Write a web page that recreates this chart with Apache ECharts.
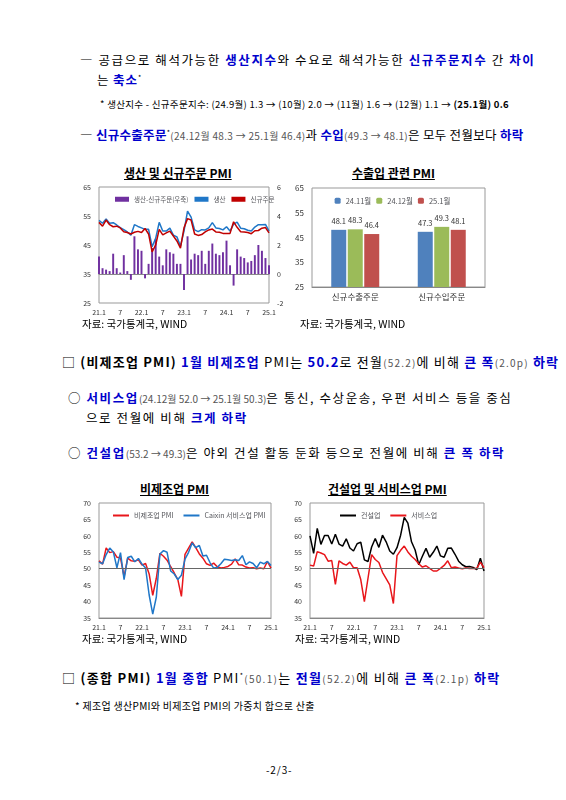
<!DOCTYPE html>
<html><head><meta charset="utf-8">
<script src="https://cdn.jsdelivr.net/npm/echarts@6/dist/echarts.min.js"></script>
<style>
body{margin:0;width:566px;height:800px;background:#fff;font-family:"Noto Sans CJK KR","Noto Sans",sans-serif;color:#000;position:relative;overflow:hidden}
.t{position:absolute;white-space:nowrap;font-size:12.5px;letter-spacing:0.9px}
.s{font-size:9.5px;letter-spacing:0.3px}
.b{color:#0000cc;font-weight:bold}
.g{color:#555;font-size:10px}
.ct{position:absolute;font-size:12px;font-weight:bold;text-decoration:underline;white-space:nowrap}
.src{position:absolute;font-size:10.5px;white-space:nowrap}
.c{position:absolute}
</style></head><body>
<div class="t" style="left:80px;top:50px;letter-spacing:1.6px">― 공급으로 해석가능한 <span class="b">생산지수</span>와 수요로 해석가능한 <span class="b">신규주문지수</span> 간 <span class="b">차이</span></div>
<div class="t" style="left:97px;top:70px">는 <span class="b">축소</span><sup style="font-size:7px">*</sup></div>
<div class="t s" style="left:100px;top:97px">* 생산지수 - 신규주문지수: (24.9월) 1.3 → (10월) 2.0 → (11월) 1.6 → (12월) 1.1 → <b>(25.1월) 0.6</b></div>
<div class="t" style="left:80px;top:125px;letter-spacing:0.3px">― <span class="b">신규수출주문</span><sup style="font-size:7px">*</sup><span class="g">(24.12월 48.3 → 25.1월 46.4)</span>과 <span class="b">수입</span><span class="g">(49.3 → 48.1)</span>은 모두 전월보다 <span class="b">하락</span></div>
<div class="ct" style="left:124px;top:164px">생산 및 신규주문 PMI</div>
<div class="ct" style="left:352px;top:164px">수출입 관련 PMI</div>
<div id="c1" class="c" style="left:60px;top:175px;width:232px;height:145px"></div>
<div id="c2" class="c" style="left:290px;top:175px;width:205px;height:140px"></div>
<div class="src" style="left:82px;top:316px">자료: 국가통계국, WIND</div>
<div class="src" style="left:300px;top:316px">자료: 국가통계국, WIND</div>
<div class="t" style="left:62px;top:352px;font-size:13px;letter-spacing:1.2px">□ <b>(비제조업 PMI)</b> <span class="b">1월 비제조업</span> PMI는 <span class="b">50.2</span>로 전월<span class="g">(52.2)</span>에 비해 <span class="b">큰 폭</span><span class="g">(2.0p)</span> <span class="b">하락</span></div>
<div class="t" style="left:68px;top:388px;letter-spacing:1.6px">○ <span class="b">서비스업</span><span class="g" style="letter-spacing:0">(24.12월 52.0 → 25.1월 50.3)</span>은 통신, 수상운송, 우편 서비스 등을 중심</div>
<div class="t" style="left:86px;top:408px;letter-spacing:1.6px">으로 전월에 비해 <span class="b">크게 하락</span></div>
<div class="t" style="left:68px;top:443px;letter-spacing:1.6px">○ <span class="b">건설업</span><span class="g" style="letter-spacing:0">(53.2 → 49.3)</span>은 야외 건설 활동 둔화 등으로 전월에 비해 <span class="b">큰 폭 하락</span></div>
<div class="ct" style="left:140px;top:480px">비제조업 PMI</div>
<div class="ct" style="left:328px;top:480px">건설업 및 서비스업 PMI</div>
<div id="c3" class="c" style="left:60px;top:490px;width:225px;height:150px"></div>
<div id="c4" class="c" style="left:285px;top:490px;width:210px;height:150px"></div>
<div class="src" style="left:82px;top:631px">자료: 국가통계국, WIND</div>
<div class="src" style="left:295px;top:631px">자료: 국가통계국, WIND</div>
<div class="t" style="left:62px;top:668px;font-size:13px;letter-spacing:1.3px">□ <b>(종합 PMI)</b> <span class="b">1월 종합</span> PMI<sup style="font-size:7px">*</sup><span class="g">(50.1)</span>는 <span class="b">전월</span><span class="g">(52.2)</span>에 비해 <span class="b">큰 폭</span><span class="g">(2.1p)</span> <span class="b">하락</span></div>
<div class="t s" style="left:75px;top:698px;font-size:10px">* 제조업 생산PMI와 비제조업 PMI의 가중치 합으로 산출</div>
<div class="t" style="left:266px;top:762px;font-size:10px">-2/3-</div>
<script>
const months = [];
for (let y = 21; y <= 25; y++) for (let m = 1; m <= 12; m++) { if (y === 25 && m > 1) break; months.push(m === 1 ? y + '.1' : String(m)); }
const production = [53.5,52.5,54.0,52.5,52.7,51.9,51.0,50.3,49.5,48.4,52.0,51.4, 50.9,50.4,50.4,44.4,47.3,52.8,49.8,49.8,50.8,48.4,47.8,44.6, 49.8,56.7,54.6,50.2,49.6,50.3,50.2,50.9,52.7,50.9,50.7,50.2, 51.3,49.8,52.2,52.9,50.8,50.6,50.1,49.8,51.2,52.0,52.0,52.1,49.8];
const newOrders = [52.8,51.5,53.6,52.0,51.3,51.5,50.9,49.6,49.3,48.8,49.4,49.7, 49.3,50.7,48.8,42.6,45.0,50.4,48.5,49.2,49.8,48.1,46.4,43.9, 50.9,54.1,53.6,48.8,48.3,48.6,49.5,50.2,50.5,49.5,49.4,49.0, 49.0,49.0,53.0,51.1,49.6,49.5,49.3,48.9,49.9,50.0,50.8,51.0,49.2];
const gap = [1.2,0.4,0.3,0.2,1.4,0.4,0.1,1.3,0.2,-0.4,2.6,1.7, 1.6,-0.3,0.7,1.8,2.4,1.2,0.6,1.7,1.5,1.4,0.7,0.7, -1.1,2.6,1.0,1.4,1.3,1.6,0.7,1.6,2.1,1.4,1.3,1.5, 2.3,0.6,-0.8,1.7,1.2,1.1,0.8,0.9,1.3,2.0,1.6,1.1,0.6];
const tradeCats = ['신규수출주문','신규수입주문'];
const trade1 = [48.1,47.3], trade2 = [48.3,49.3], trade3 = [46.4,48.1];
const nonMfg = [52.4,51.4,56.3,54.9,55.2,53.5,53.3,47.5,53.2,52.4,52.3,52.7, 51.1,51.6,48.4,41.9,47.1,54.7,53.8,52.6,50.6,48.7,46.7,41.6, 54.4,56.3,58.2,56.4,54.5,53.2,51.5,51.0,51.7,50.6,50.2,50.4, 50.7,51.4,53.0,51.2,51.1,50.5,50.2,50.3,50.0,50.2,50.0,52.2,50.2];
const caixin = [52.0,51.5,54.3,56.3,55.1,50.3,54.9,46.7,53.4,53.8,52.1,53.1, 51.4,50.2,42.0,36.2,41.4,54.5,55.5,55.0,49.3,48.4,46.7,48.0, 52.9,55.0,57.8,56.4,57.1,53.9,54.1,51.8,50.2,50.4,51.5,52.9, 52.7,52.5,52.7,52.5,54.0,51.2,52.1,51.6,50.3,52.0,51.5,52.2,51.0];
const construction = [60.0,54.7,62.3,57.4,60.1,60.1,57.5,60.5,57.5,56.9,59.1,56.3, 55.4,57.6,58.1,52.7,52.2,56.6,59.2,56.5,60.2,58.2,55.4,54.4, 56.4,60.2,65.6,63.9,58.2,55.7,51.2,53.8,56.2,53.5,55.0,56.9, 53.9,53.5,56.2,56.3,54.4,52.3,51.2,50.6,50.7,50.4,49.7,53.2,49.3];
const services = [51.1,50.8,55.2,54.8,54.3,52.3,52.5,45.2,52.4,51.6,51.1,52.0, 50.3,50.3,46.7,40.0,47.1,54.3,52.8,51.9,48.9,47.0,45.1,39.4, 54.0,55.6,56.9,55.1,53.8,52.8,51.5,50.5,50.9,50.1,49.3,49.3, 50.1,51.0,52.4,50.3,50.5,50.2,50.0,50.2,50.1,50.1,50.1,52.0,50.3];

const F = 'Noto Sans CJK KR';
const lab = {fontSize:7, color:'#333', fontFamily:F};
function xAxis(){return {type:'category',data:months,boundaryGap:false,axisTick:{show:false},axisLine:{lineStyle:{color:'#888'}},
  axisLabel:Object.assign({interval:5,margin:6},lab),splitLine:{show:false}};}
function yAxis(min,max,iv){return {type:'value',min:min,max:max,interval:iv,axisLabel:lab,splitLine:{show:false},axisLine:{show:false},axisTick:{show:false}};}
const gridB = {show:true,borderColor:'#999',borderWidth:1,backgroundColor:'#fff'};

echarts.init(document.getElementById('c1')).setOption({animation:false,
  grid:Object.assign({left:39,right:23,top:12,bottom:17},gridB),
  legend:{top:16,left:50,itemWidth:14,itemHeight:5,itemGap:6,textStyle:{fontSize:6.5,fontFamily:F},
    data:[{name:'생산-신규주문(우축)',icon:'rect'},{name:'생산',icon:'rect'},{name:'신규주문',icon:'rect'}]},
  xAxis:xAxis(),
  yAxis:[yAxis(25,65,10),Object.assign(yAxis(-2,6,2),{position:'right'})],
  series:[
    {name:'생산-신규주문(우축)',type:'bar',yAxisIndex:1,data:gap,barWidth:'55%',itemStyle:{color:'#7030A0'}},
    {name:'생산',type:'line',data:production,symbol:'none',lineStyle:{color:'#1F77C8',width:1.5},itemStyle:{color:'#1F77C8'}},
    {name:'신규주문',type:'line',data:newOrders,symbol:'none',lineStyle:{color:'#C00000',width:1.5},itemStyle:{color:'#C00000'}}
  ]});

echarts.init(document.getElementById('c2')).setOption({animation:false,
  grid:Object.assign({left:22,right:10,top:13,bottom:28},gridB),
  legend:{top:17,left:'center',itemWidth:6,itemHeight:6,itemGap:5,textStyle:{fontSize:7.5,fontFamily:F},backgroundColor:'#fff'},
  xAxis:{type:'category',data:tradeCats,axisTick:{show:false},axisLine:{lineStyle:{color:'#888'}},axisLabel:Object.assign({},lab,{fontSize:8.5,margin:6})},
  yAxis:Object.assign(yAxis(25,65,10),{axisLabel:Object.assign({},lab,{fontSize:8})}),
  series:[
    {name:'24.11월',type:'bar',data:trade1,barWidth:15,itemStyle:{color:'#4F81BD'},label:{show:true,position:'top',fontSize:7.5,fontFamily:F}},
    {name:'24.12월',type:'bar',data:trade2,barWidth:15,itemStyle:{color:'#9BBB59'},label:{show:true,position:'top',fontSize:7.5,fontFamily:F}},
    {name:'25.1월',type:'bar',data:trade3,barWidth:15,itemStyle:{color:'#C0504D'},label:{show:true,position:'top',fontSize:7.5,fontFamily:F}}
  ]});

function lineChart(id,left,right,s1,n1,c1,s2,n2,c2,legLeft){
  echarts.init(document.getElementById(id)).setOption({animation:false,
    grid:Object.assign({left:left,right:right,top:13,bottom:22},gridB),
    legend:{top:17,left:legLeft,itemWidth:16,itemHeight:2,itemGap:10,icon:'rect',textStyle:{fontSize:7,fontFamily:F}},
    xAxis:xAxis(),yAxis:yAxis(35,70,5),
    series:[
      {name:n1,type:'line',data:s1,symbol:'none',lineStyle:{color:c1,width:1.5},itemStyle:{color:c1},
        markLine:{silent:true,symbol:'none',label:{show:false},lineStyle:{color:'#666',type:'solid',width:1},data:[{yAxis:50}]}},
      {name:n2,type:'line',data:s2,symbol:'none',lineStyle:{color:c2,width:1.5},itemStyle:{color:c2}}
    ]});
}
lineChart('c3',39,14,nonMfg,'비제조업 PMI','#E8161B',caixin,'Caixin 서비스업 PMI','#1F77C8',48);
lineChart('c4',25,11,construction,'건설업','#000000',services,'서비스업','#E8161B',50);
</script>
</body></html>
